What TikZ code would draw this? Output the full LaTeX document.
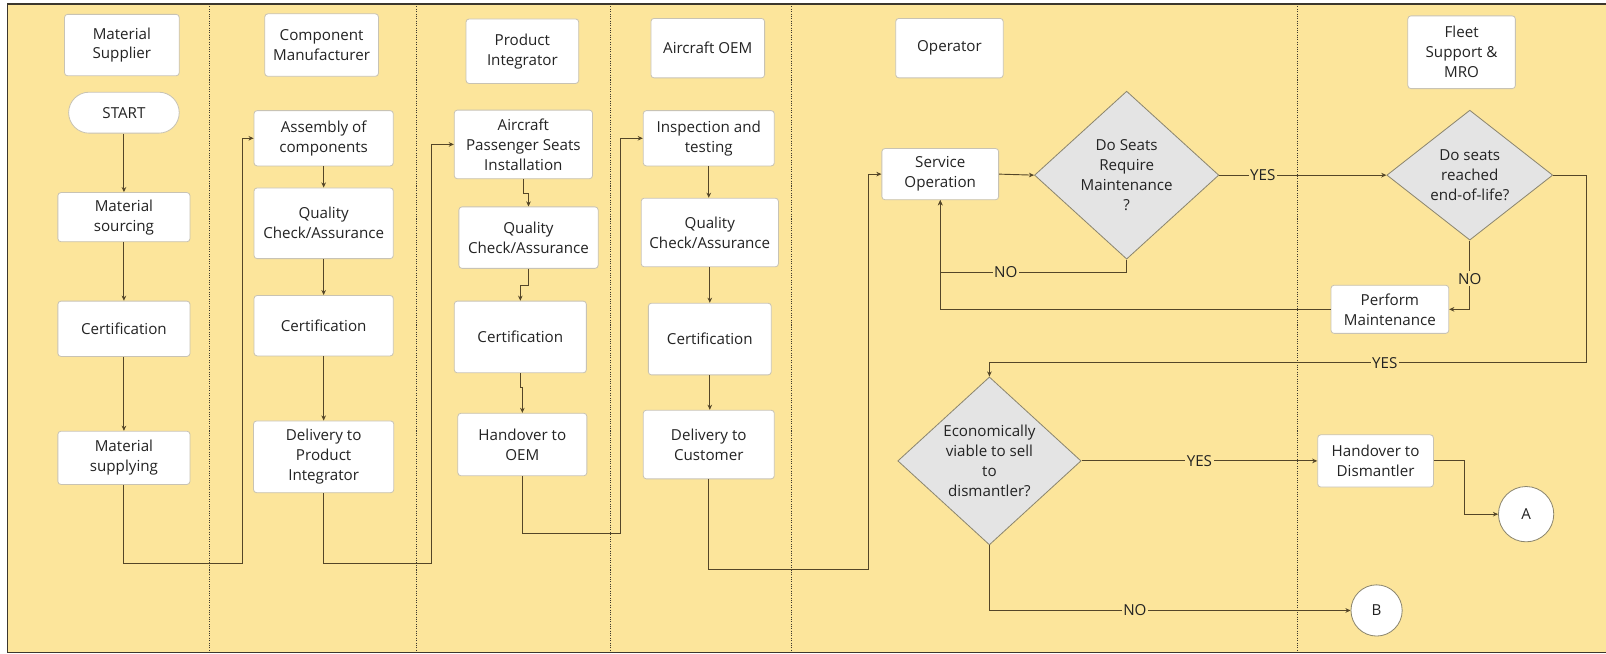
\documentclass[tikz,border=0pt]{standalone}
\usepackage{fontspec}
\setmainfont{Open Sans}
\usetikzlibrary{shapes.geometric,arrows.meta}
\definecolor{lanebg}{RGB}{252,229,155}
\definecolor{wire}{RGB}{84,70,40}
\definecolor{boxline}{RGB}{200,195,180}
\definecolor{txt}{RGB}{35,35,35}
\definecolor{diafill}{RGB}{228,228,228}
\definecolor{dialine}{RGB}{140,134,110}
\definecolor{frameline}{RGB}{60,55,45}
\newcommand\flowfont{\fontsize{14.8}{19.5}\selectfont}
\tikzset{
  box/.style={draw=boxline, fill=white, rounded corners=3pt, line width=0.8pt,
    align=center, text=txt, font=\flowfont, inner sep=0pt},
  pill/.style={box, rounded corners=20pt},
  decision/.style={diamond, draw=dialine, fill=diafill, line width=0.8pt,
    align=center, text=txt, font=\flowfont, inner sep=0pt},
  connector/.style={circle, draw=dialine, fill=white, line width=0.8pt,
    text=txt, font=\flowfont, inner sep=0pt},
  arr/.style={draw=wire, line width=0.9pt, -{Stealth[length=5pt,width=4.5pt]}},
  lbl/.style={fill=lanebg, inner sep=1.5pt, text=txt, font=\flowfont},
  lanesep/.style={draw=frameline, line width=1pt, dash pattern=on 1pt off 1.3pt},
  frame/.style={draw=frameline, line width=1.3pt}
}
\begin{document}
\begin{tikzpicture}[x=1pt,y=-1pt]
\useasboundingbox (0,0) rectangle (1568,638);
% swimlane background and frame
\fill[lanebg] (7,4) rectangle (1568,637);
\draw[frame] (1568,4) -- (7,4) -- (7,637) -- (1568,637);
\foreach \lx in {205,407,596,773,1267}
  \draw[lanesep] (\lx,4) -- (\lx,637);

% lane headers
\node[box,minimum width=112,minimum height=60] (hMS) at (119,44) {Material\\Supplier};
\node[box,minimum width=111,minimum height=61] (hCM) at (314,44) {Component\\Manufacturer};
\node[box,minimum width=110,minimum height=63] (hPI) at (510,50) {Product\\Integrator};
\node[box,minimum width=111,minimum height=58] (hOEM) at (691,47) {Aircraft OEM};
\node[box,minimum width=105,minimum height=58] (hOP) at (927,47) {Operator};
\node[box,minimum width=105,minimum height=71] (hFS) at (1427,51) {Fleet\\Support \&\\MRO};

% material supplier
\node[pill,minimum width=108,minimum height=40] (start) at (121,110) {START};
\node[box,minimum width=129,minimum height=48] (ms1) at (121,212) {Material\\sourcing};
\node[box,minimum width=129,minimum height=54] (ms2) at (121,321) {Certification};
\node[box,minimum width=129,minimum height=52] (ms3) at (121,447) {Material\\supplying};

% component manufacturer
\node[box,minimum width=136,minimum height=54] (cm1) at (316,135) {Assembly of\\components};
\node[box,minimum width=136,minimum height=69] (cm2) at (316,218) {Quality\\Check/Assurance};
\node[box,minimum width=136,minimum height=59] (cm3) at (316,318) {Certification};
\node[box,minimum width=137,minimum height=70] (cm4) at (316,446) {Delivery to\\Product\\Integrator};

% product integrator
\node[box,minimum width=135,minimum height=67] (pi1) at (511,141) {Aircraft\\Passenger Seats\\Installation};
\node[box,minimum width=136,minimum height=60] (pi2) at (516,232) {Quality\\Check/Assurance};
\node[box,minimum width=129,minimum height=70] (pi3) at (508,329) {Certification};
\node[box,minimum width=126,minimum height=61] (pi4) at (510,434) {Handover to\\OEM};

% aircraft OEM
\node[box,minimum width=128,minimum height=54] (oe1) at (692,135) {Inspection and\\testing};
\node[box,minimum width=134,minimum height=67] (oe2) at (693,227) {Quality\\Check/Assurance};
\node[box,minimum width=120,minimum height=70] (oe3) at (693,331) {Certification};
\node[box,minimum width=128,minimum height=67] (oe4) at (692,434) {Delivery to\\Customer};

% operator and fleet support
\node[box,minimum width=114,minimum height=50] (svc) at (918,170) {Service\\Operation};
\node[decision,minimum width=180,minimum height=164] (d1) at (1100,171) {Do Seats\\Require\\Maintenance\\?};
\node[decision,minimum width=162,minimum height=111] (d2) at (1435,171) {Do seats\\reached\\end-of-life?};
\node[box,minimum width=115,minimum height=47] (pm) at (1357,302) {Perform\\Maintenance};
\node[decision,minimum width=179,minimum height=164] (d3) at (966,450) {Economically\\viable to sell\\to\\dismantler?};
\node[box,minimum width=113,minimum height=51] (hd) at (1343,450) {Handover to\\Dismantler};
\node[connector,minimum size=54] (A) at (1490,502) {A};
\node[connector,minimum size=50] (B) at (1344,596) {B};

% flow within lanes
\draw[arr] (start.south) -- (start.south |- ms1.north);
\draw[arr] (ms1.south) -- (ms1.south |- ms2.north);
\draw[arr] (ms2.south) -- (ms2.south |- ms3.north);
\draw[arr] (cm1.south) -- (cm1.south |- cm2.north);
\draw[arr] (cm2.south) -- (cm2.south |- cm3.north);
\draw[arr] (cm3.south) -- (cm3.south |- cm4.north);
\draw[arr] (pi1.south) -- ++(0,14) -| (pi2.north);
\draw[arr] (pi2.south) -- ++(0,16) -| (pi3.north);
\draw[arr] (pi3.south) -- ++(0,14) -| (pi4.north);
\draw[arr] (oe1.south) -- (oe1.south |- oe2.north);
\draw[arr] (oe2.south) -- (oe2.south |- oe3.north);
\draw[arr] (oe3.south) -- (oe3.south |- oe4.north);

% hand-offs between lanes
\draw[arr] (ms3.south) |- (237,550) |- (cm1.west);
\draw[arr] (cm4.south) |- (421,550) |- (pi1.west);
\draw[arr] (pi4.south) |- (606,521) |- (oe1.west);
\draw[arr] (oe4.south) |- (848,556) |- (svc.west);

% operation and maintenance loop
\draw[arr] (svc.east) -- (d1.west);
\draw[arr] (d1.east) -- (d2.west) node[lbl,pos=0.26] (yes1) {YES};
\draw[arr] (d1.south) -- ++(0,13) -| (svc.south);
\node[lbl] (no1) at (982,266) {NO};
\draw[arr] (d2.south) |- (pm.east);
\node[lbl] (no2) at (1435,272) {NO};
\draw[arr] (pm.west) -| (svc.south);
\draw[arr] (d2.east) -| (1549,354) -| (d3.north);
\node[lbl] (yes2) at (1352,354) {YES};

% end-of-life decision
\draw[arr] (d3.east) -- (hd.west) node[lbl,pos=0.5] (yes3) {YES};
\draw[arr] (hd.east) -- ++(30,0) |- (A.west);
\draw[arr] (d3.south) |- (B.west);
\node[lbl] (no3) at (1108,596) {NO};
\end{tikzpicture}
\end{document}
